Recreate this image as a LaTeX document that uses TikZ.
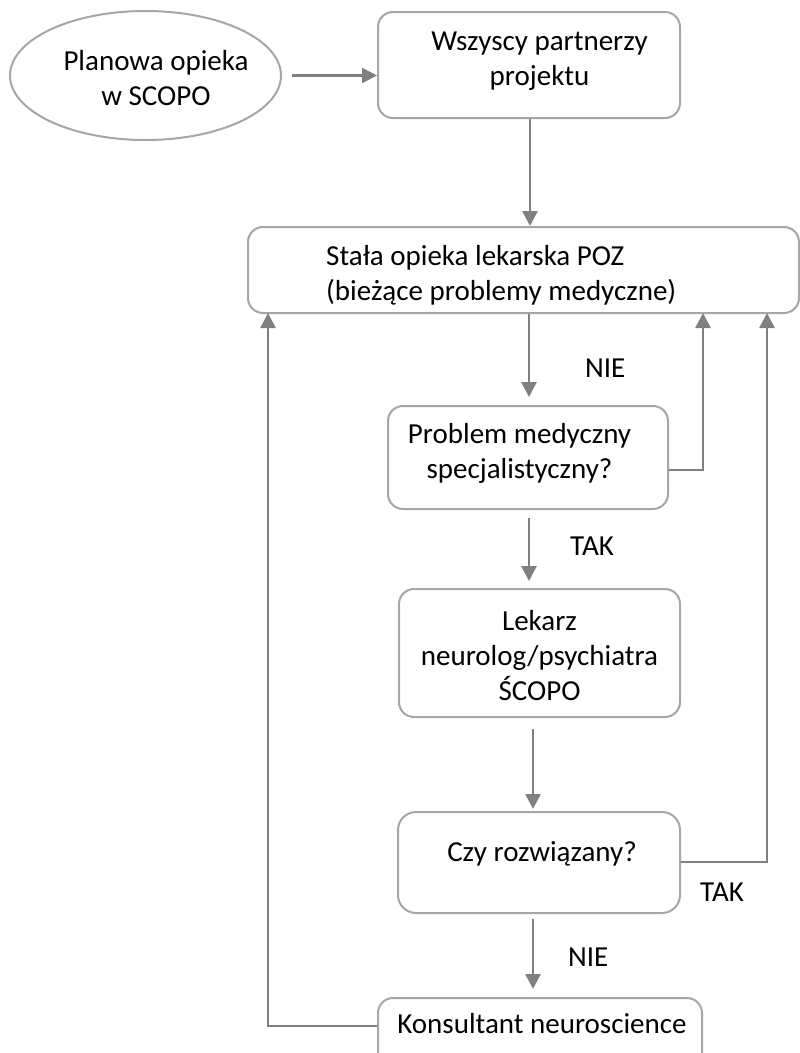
\documentclass[tikz,border=0pt]{standalone}
\usepackage{fontspec}
\setmainfont{Carlito}
\usetikzlibrary{arrows.meta,shapes.geometric}
\definecolor{edgegray}{HTML}{A6A6A6}
\definecolor{linkgray}{HTML}{808080}
\tikzset{
  box/.style={draw=edgegray, line width=2pt, rounded corners=15pt, inner sep=0pt},
  oval/.style={ellipse, draw=edgegray, line width=2pt, inner sep=0pt},
  conn/.style={draw=linkgray, line width=2.6pt, -{Triangle[length=15pt,width=15pt]}},
  lbl/.style={inner sep=0pt, font=\fontsize{29}{35}\selectfont, anchor=base},
}
\begin{document}
\begin{tikzpicture}[x=1pt, y=-1pt]
  \useasboundingbox (0,0) rectangle (800,1053);
  \clip (0,0) rectangle (800,1053);

  % shapes
  \node[oval, minimum width=271pt, minimum height=129pt] (ell) at (145.5,75.5) {};
  \node[box, minimum width=302pt, minimum height=106pt] (box1) at (529,65) {};
  \node[box, minimum width=551pt, minimum height=86pt] (box2) at (523.5,270) {};
  \node[box, minimum width=280pt, minimum height=103pt] (box3) at (528,457.5) {};
  \node[box, minimum width=281pt, minimum height=128pt] (box4) at (539.5,653) {};
  \node[box, minimum width=282pt, minimum height=101pt, rounded corners=18pt] (box5) at (539,862.5) {};
  \node[box, minimum width=324pt, minimum height=92pt] (box6) at (540,1044) {};

  % texts
  \node[lbl] (e1) at (156,70) {Planowa opieka};
  \node[lbl] (e2) at (156,105) {w SCOPO};
  \node[lbl] (p1) at (539.5,50) {Wszyscy partnerzy};
  \node[lbl] (p2) at (539.5,85) {projektu};
  \node[lbl, anchor=base west] (s1) at (326,265) {Stała opieka lekarska POZ};
  \node[lbl, anchor=base west] (s2) at (326,300) {(bieżące problemy medyczne)};
  \node[lbl] (q1) at (519.5,443) {Problem medyczny};
  \node[lbl] (q2) at (519.5,478) {specjalistyczny?};
  \node[lbl] (l1) at (539.5,630) {Lekarz};
  \node[lbl] (l2) at (539.5,665) {neurolog/psychiatra};
  \node[lbl] (l3) at (539.5,700) {ŚCOPO};
  \node[lbl] (r1) at (542,861) {Czy rozwiązany?};
  \node[lbl] (k1) at (542,1033) {Konsultant neuroscience};

  % branch labels
  \node[lbl, anchor=base west] (nie1) at (585,377) {NIE};
  \node[lbl, anchor=base west] (tak1) at (570,555) {TAK};
  \node[lbl, anchor=base west] (tak2) at (700,901) {TAK};
  \node[lbl, anchor=base west] (nie2) at (568,966) {NIE};

  % feedback turning points
  \coordinate (up1) at (703,313);
  \coordinate (up2) at (767,313);
  \coordinate (up3) at (268,313);

  % connectors
  \draw[conn, shorten <=10pt] (ell.east) -- (ell.east -| box1.west);
  \draw[conn] ([xshift=1pt]box1.south) -- ([xshift=1pt]box1.south |- box2.north);
  \draw[conn, shorten >=8pt] ([xshift=1pt]box3.north |- box2.south) -- ([xshift=1pt]box3.north);
  \draw[conn, shorten <=8pt, shorten >=7pt] ([xshift=1pt]box3.south) -- ([xshift=1pt]box3.south |- box4.north);
  \draw[conn, shorten <=11pt, shorten >=2pt] ([xshift=-6.5pt]box4.south) -- ([xshift=-6.5pt]box4.south |- box5.north);
  \draw[conn, shorten <=5pt, shorten >=8pt] ([xshift=-6pt]box5.south) -- ([xshift=-6pt]box5.south |- box6.north);
  \draw[conn] ([yshift=-12.5pt]box3.east) -| (up1);
  \draw[conn] ([yshift=0.5pt]box5.east) -| (up2);
  \draw[conn] ([yshift=18pt]box6.west) -| (up3);
\end{tikzpicture}
\end{document}
